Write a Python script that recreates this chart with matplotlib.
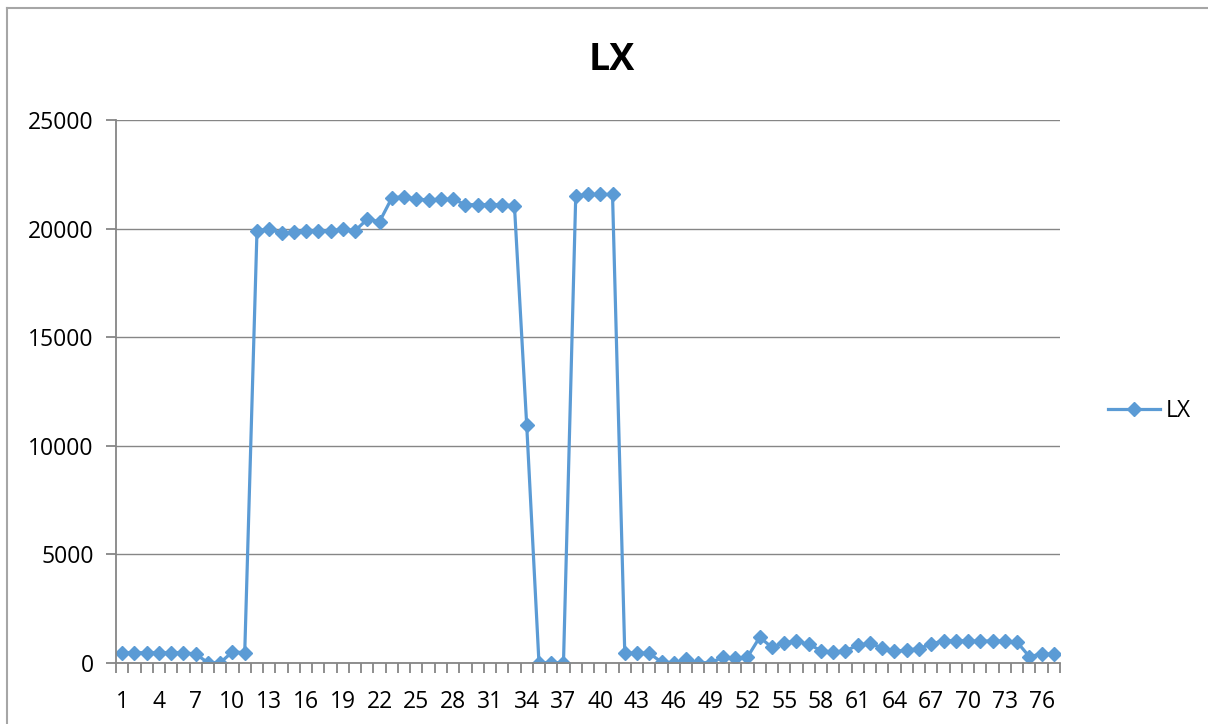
import matplotlib
matplotlib.use("Agg")
import matplotlib.pyplot as plt
from matplotlib.lines import Line2D
import numpy as np

plt.rcParams['font.family'] = ['Open Sans', 'DejaVu Sans']

categories = list(range(1, 78))
lx = [460, 460, 460, 460, 460, 460, 400, 0, 0, 500, 460,
      19900, 19970, 19790, 19820, 19870, 19870, 19900, 19960, 19900,
      20430, 20320, 21410, 21470, 21350, 21320, 21350, 21350,
      21100, 21100, 21100, 21100, 21050, 10950, 0, 0, 0,
      21500, 21570, 21570, 21570,
      430, 460, 430, 30, 0, 150, 0, 0, 250, 215, 250,
      1170, 710, 920, 980, 860, 550, 490, 550, 800, 890, 680, 520, 580, 650,
      860, 1010, 1010, 1010, 980, 1010, 980, 950, 280, 400, 400]
yticks = [0, 5000, 10000, 15000, 20000, 25000]
tick_labels = [str(c) for c in categories[::3]]

color = '#5B9BD5'
grey = '#868686'

W, H = 1208, 724
fig = plt.figure(figsize=(W / 100, H / 100), dpi=100)
ax = fig.add_axes([116 / W, (H - 662.7) / H, (1060 - 116) / W, (662.7 - 120) / H])

x = np.arange(len(categories))
ax.plot(x, lx, color=color, lw=2.3, marker='D', ms=7.6, mfc=color, mec=color, mew=1)

ax.set_xlim(-0.5, len(categories) - 0.5)
ax.set_ylim(0, 25000)
ax.set_yticks(yticks)
ax.set_yticklabels([str(v) for v in yticks], fontsize=16.5)
ax.set_xticks(x[::3])
ax.set_xticklabels(tick_labels, fontsize=16.5)
ax.set_xticks(np.arange(-0.5, len(categories)), minor=True)
ax.tick_params(axis='x', which='major', length=0, pad=20)
ax.tick_params(axis='x', which='minor', length=7, color=grey, width=1.3, direction='out')
ax.tick_params(axis='y', length=7, color=grey, width=1.3, pad=9)
ax.yaxis.grid(True, color=grey, lw=1)
ax.set_axisbelow(True)
for s in ['top', 'right']:
    ax.spines[s].set_visible(False)
for s in ['left', 'bottom']:
    ax.spines[s].set_color(grey)
    ax.spines[s].set_linewidth(1.3)

fig.text(612 / W, 1 - 60 / H, 'LX', fontsize=27, fontweight='bold', ha='center', va='center')

# legend
handle = Line2D([], [], color=color, lw=2.3, marker='D', ms=7.6, mfc=color, mec=color)
fig.legend([handle], ['LX'], loc='center left', bbox_to_anchor=(1087 / W, 1 - 411 / H),
           frameon=False, fontsize=16.5, handlelength=2.3, handletextpad=0.25)

# outer border (left and top)
fig.add_artist(Line2D([7.5 / W, 7.5 / W], [0, 1 - 8 / H], color='#A6A6A6', lw=1.5, transform=fig.transFigure))
fig.add_artist(Line2D([7.5 / W, 1], [1 - 8 / H, 1 - 8 / H], color='#A6A6A6', lw=1.5, transform=fig.transFigure))

fig.savefig('out.png', dpi=100)
